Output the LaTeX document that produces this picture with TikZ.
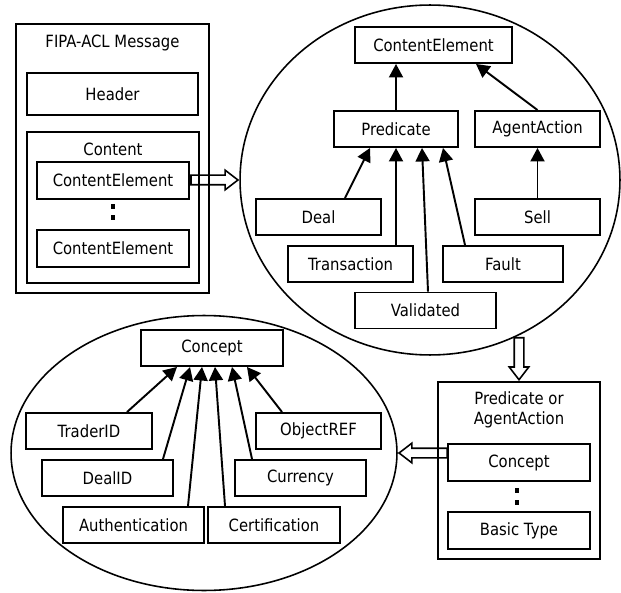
\documentclass[tikz,border=0pt]{standalone}
\usepackage{fontspec}
\setmainfont{DejaVu Sans}[FakeStretch=0.88]
\usepackage{tikz}
\usetikzlibrary{positioning,calc,shapes.geometric,shapes.arrows,arrows.meta}

\tikzset{
    box/.style={draw, line width=1.1pt, minimum width=2.5cm, minimum height=0.72cm, inner sep=0pt},
    frame/.style={draw, line width=1.1pt, inner sep=0pt},
    isa/.style={-{Triangle[length=0.27cm,width=0.28cm]}, line width=1.1pt},
    fatarrow/.style={single arrow, draw, line width=0.9pt, inner sep=0.08cm,
        single arrow head extend=0.1cm, single arrow tip angle=75},
    dotmark/.style={fill=black, inner sep=0pt, minimum width=0.08cm, minimum height=0.1cm},
    oval/.style={draw, ellipse, line width=0.9pt, inner sep=0pt}
}

\begin{document}
\begin{tikzpicture}[x=0.02cm, y=0.02cm, font=\fontsize{9.6}{11.5}\selectfont]
    \useasboundingbox (0,0) rectangle (621,592);

    % FIPA-ACL message
    \node[frame, minimum width=3.86cm, minimum height=5.38cm] (msg) at (112.5,433.5) {};
    \node (msgtitle) at (112.5,549) {FIPA-ACL Message};
    \node[box, minimum width=3.42cm, minimum height=0.84cm] (header) at (112.5,498) {Header};
    \node[frame, minimum width=3.44cm, minimum height=3.02cm] (content) at (113,384.5) {};
    \node (contenttitle) at (113,443) {Content};
    \node[box, minimum width=3.04cm, minimum height=0.74cm] (ce1) at (113,411.5) {ContentElement};
    \node[dotmark] (d1) at (113,385) {};
    \node[dotmark] (d2) at (113,374) {};
    \node[box, minimum width=3.04cm, minimum height=0.74cm] (ce2) at (113,343.5) {ContentElement};

    % content element hierarchy
    \node[oval, minimum width=7.6cm, minimum height=7cm] (tell) at (430,412) {};
    \node[box, minimum width=3.14cm] (ce) at (433.5,547) {ContentElement};
    \node[box, minimum width=2.48cm] (pred) at (396,463) {Predicate};
    \node[box] (agent) at (537.5,463) {AgentAction};
    \node[box] (deal) at (318.5,375) {Deal};
    \node[box] (trans) at (350.5,328) {Transaction};
    \node[box, minimum width=2.82cm] (valid) at (425.5,281.5) {Validated};
    \node[box, minimum width=2.4cm] (fault) at (503,328) {Fault};
    \node[box] (sell) at (537.5,375) {Sell};

    \draw[isa] (pred.north) -- (pred.north |- ce.south);
    \draw[isa] (agent.north) -- ([xshift=0.85cm]ce.south);
    \draw[isa] (sell.north) -- (agent.south);
    \draw[isa] ([xshift=0.53cm]deal.north) -- ([xshift=-0.52cm]pred.south);
    \draw[isa] (trans.north -| pred.south) -- (pred.south);
    \draw[isa] ([xshift=0.05cm]valid.north) -- ([xshift=0.52cm]pred.south);
    \draw[isa] ([xshift=-0.76cm]fault.north) -- ([xshift=0.94cm]pred.south);

    % predicate or agent action
    \node[frame, minimum width=3.24cm, minimum height=3.54cm] (pbox) at (519,121.5) {};
    \node[align=center] (ptitle) at (519,182) {Predicate or\\AgentAction};
    \node[box, minimum width=2.84cm, minimum height=0.74cm] (concept2) at (519,129.5) {Concept};
    \node[dotmark] (d3) at (517,102) {};
    \node[dotmark] (d4) at (517,90) {};
    \node[box, minimum width=2.84cm, minimum height=0.74cm] (basic) at (519,61.5) {Basic Type};

    % concept hierarchy
    \node[oval, minimum width=7.72cm, minimum height=5.5cm] (bell) at (204,139) {};
    \node[box, minimum width=2.84cm] (concept) at (212,244) {Concept};
    \node[box, minimum width=2.52cm] (trader) at (89,161) {TraderID};
    \node[box, minimum width=2.62cm] (dealid) at (107.5,114) {DealID};
    \node[box, minimum width=2.82cm] (auth) at (133.5,67) {Authentication};
    \node[box, minimum width=2.64cm] (cert) at (274,67) {Certification};
    \node[box, minimum width=2.62cm] (curr) at (300.5,114) {Currency};
    \node[box] (objref) at (318.5,161) {ObjectREF};

    \draw[isa] ([xshift=0.76cm]trader.north) -- ([xshift=-0.7cm]concept.south);
    \draw[isa] ([xshift=1.11cm]dealid.north) -- ([xshift=-0.44cm]concept.south);
    \draw[isa] ([xshift=1.09cm]auth.north) -- ([xshift=-0.2cm]concept.south);
    \draw[isa] ([xshift=-0.98cm]cert.north) -- ([xshift=0.06cm]concept.south);
    \draw[isa] ([xshift=-0.97cm]curr.north) -- ([xshift=0.4cm]concept.south);
    \draw[isa] ([xshift=-0.73cm]objref.north) -- ([xshift=0.7cm]concept.south);

    % flow between the parts
    \node[fatarrow, minimum height=0.94cm, anchor=tip] (a1) at (tell.west) {};
    \node[fatarrow, minimum height=0.84cm, shape border rotate=270, anchor=tip] (a2) at (pbox.north) {};
    \node[fatarrow, minimum height=0.96cm, shape border rotate=180, anchor=tip] (a3) at (bell.east) {};
\end{tikzpicture}
\end{document}
